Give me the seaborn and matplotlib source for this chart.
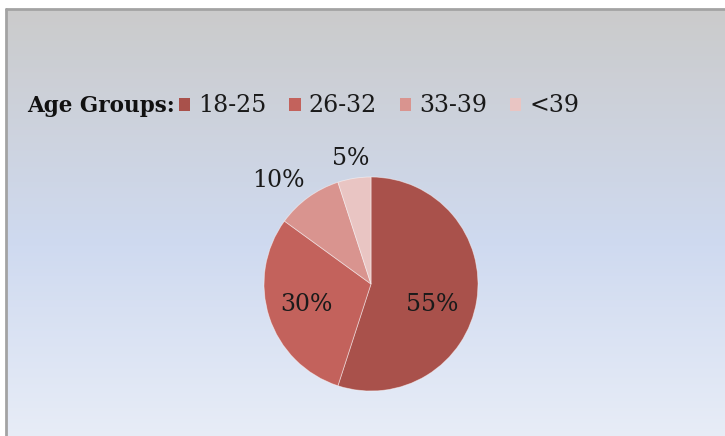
import numpy as np
import matplotlib
matplotlib.use("Agg")
import matplotlib.pyplot as plt
import seaborn as sns
from matplotlib.colors import LinearSegmentedColormap
from matplotlib.patches import Rectangle
from matplotlib.lines import Line2D

# ---- data ----
categories = ["18-25", "26-32", "33-39", "<39"]
shares = [55, 30, 10, 5]
colors = ["#A9514B", "#C3625C", "#D9948F", "#E9C5C3"]
legend_title = "Age Groups:"

sns.set_theme(style="white")
plt.rcParams["font.family"] = ["DejaVu Serif", "DejaVu Sans"]

W, H, DPI = 725, 436, 100
fig = plt.figure(figsize=(W / DPI, H / DPI), dpi=DPI)
fig.patch.set_facecolor("white")

# ---- background gradient panel ----
x0, ytop = 6 / W, 1 - 9 / H
bg = fig.add_axes([x0, -0.01, 1.02 - x0, ytop + 0.01], zorder=0)
grad_cmap = LinearSegmentedColormap.from_list(
    "bg", [(0.0, "#CBCBCB"), (0.55, "#CFDAF0"), (1.0, "#E8EDF7")])
g = np.linspace(0, 1, 256).reshape(-1, 1)
bg.imshow(g, aspect="auto", cmap=grad_cmap, extent=(0, 1, 0, 1), origin="upper")
bg.set_axis_off()
# frame lines (top and left)
fig.add_artist(Line2D([x0, 1.01], [ytop, ytop], transform=fig.transFigure,
                      color="#A3A3A3", lw=2.0, zorder=5))
fig.add_artist(Line2D([x0, x0], [-0.01, ytop], transform=fig.transFigure,
                      color="#A3A3A3", lw=2.0, zorder=5))

# ---- pie ----
cx, cy, r = 371, 284, 107
ax = fig.add_axes([(cx - r) / W, 1 - (cy + r) / H, 2 * r / W, 2 * r / H], zorder=2)
wedges, texts, autotexts = ax.pie(
    shares, colors=colors, startangle=90, counterclock=False,
    autopct="%d%%", pctdistance=0.6,
    wedgeprops=dict(linewidth=0.6, edgecolor=(1, 1, 1, 0.5)),
    textprops=dict(fontsize=17, color="#1a1a1a"))
ax.set_xlim(-1, 1)
ax.set_ylim(-1, 1)
ax.set_aspect("equal")
ax.axis("off")

# label placement (distance from centre, angular offset in degrees)
label_dist = [0.60, 0.63, 1.30, 1.19]
label_shift = [-10, 0, 6, 0]
for w, t, d, sh in zip(wedges, autotexts, label_dist, label_shift):
    ang = np.deg2rad((w.theta1 + w.theta2) / 2 + sh)
    t.set_position((d * np.cos(ang), d * np.sin(ang)))
    t.set_ha("center")
    t.set_va("center")

# ---- legend ----
fig.text(27 / W, 1 - 106 / H, legend_title, fontsize=15.5, fontweight="bold",
         family="DejaVu Serif", ha="left", va="center", color="#111111")
handles = [Rectangle((0, 0), 1, 1, facecolor=c, edgecolor="none") for c in colors]
leg = fig.legend(handles, categories, ncol=4, loc="center left",
                 bbox_to_anchor=(179 / W, 1 - 106 / H), frameon=False,
                 fontsize=17, handlelength=0.48, handleheight=0.48,
                 handletextpad=0.35, columnspacing=0.95, borderaxespad=0,
                 borderpad=0)
for t in leg.get_texts():
    t.set_color("#1a1a1a")

fig.savefig("out.png", dpi=DPI)
